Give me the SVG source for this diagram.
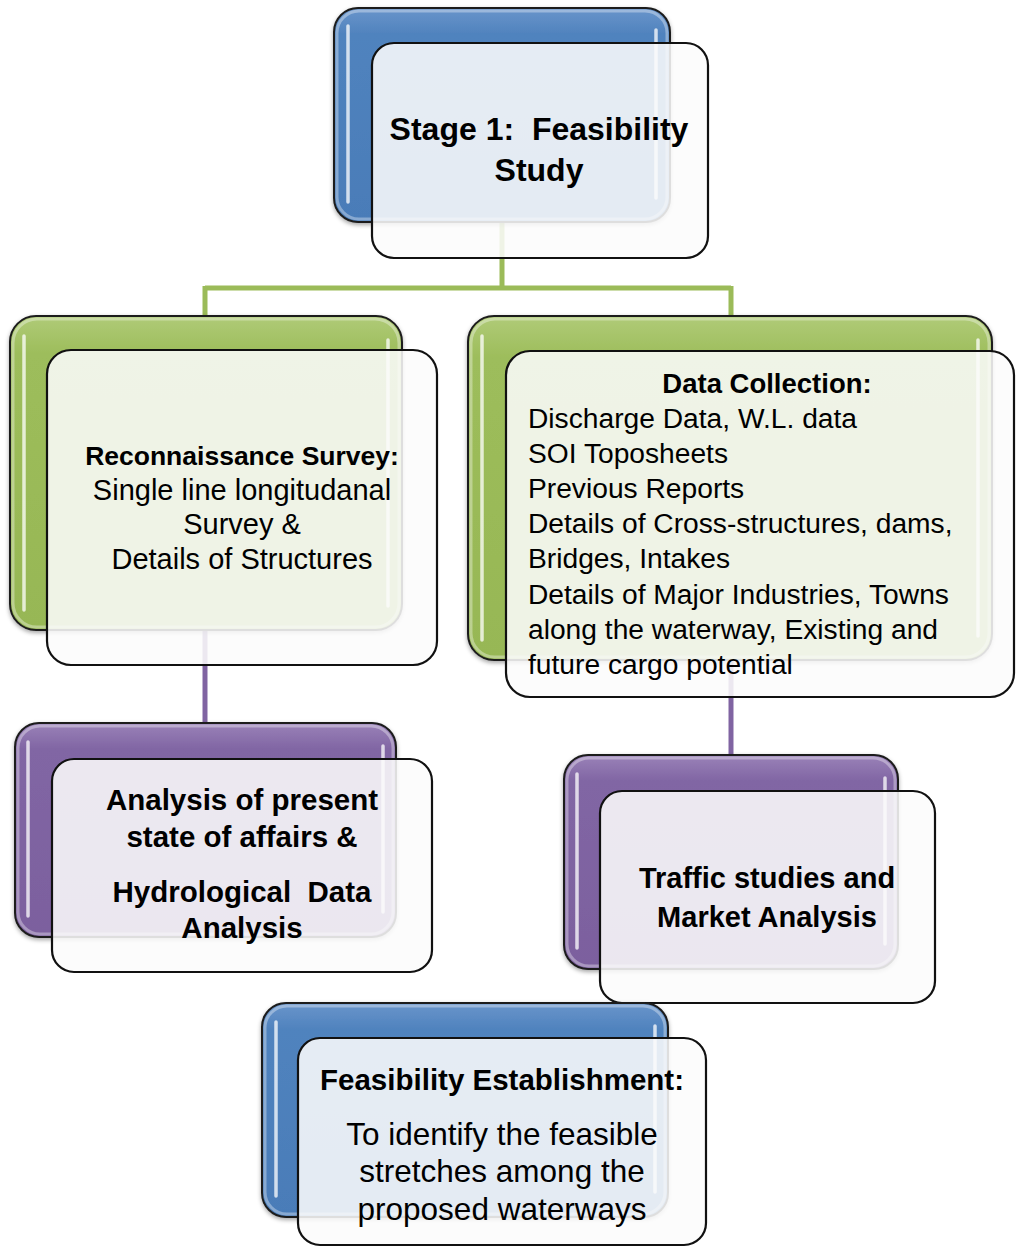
<svg xmlns="http://www.w3.org/2000/svg" width="1016" height="1247" viewBox="0 0 1016 1247">
  <style>
    .back { stroke: #1c1c1c; stroke-width: 2; }
    .front { fill: #fbfbfb; fill-opacity: 0.87; stroke: #111; stroke-width: 2.2; }
    .gloss { stroke: #ffffff; stroke-width: 3.5; stroke-linecap: round; stroke-opacity: 0.75; fill: none; }
    .rim { fill: none; stroke: #ffffff; stroke-opacity: 0.35; stroke-width: 3; }
    .t { font-family: "Liberation Sans", Arial, sans-serif; fill: #000; white-space: pre; }
    .b { font-weight: bold; }
    .c { text-anchor: middle; }
    .lnk { fill: none; stroke-width: 5; }
  </style>
  <defs>
    <linearGradient id="gBlue" x1="0" y1="0" x2="0" y2="1">
      <stop offset="0" stop-color="#6a95cb"/>
      <stop offset="0.12" stop-color="#5083be"/>
      <stop offset="1" stop-color="#4a7cb8"/>
    </linearGradient>
    <linearGradient id="gGreen" x1="0" y1="0" x2="0" y2="1">
      <stop offset="0" stop-color="#b0cb78"/>
      <stop offset="0.12" stop-color="#9dbd5b"/>
      <stop offset="1" stop-color="#97b755"/>
    </linearGradient>
    <linearGradient id="gPurple" x1="0" y1="0" x2="0" y2="1">
      <stop offset="0" stop-color="#9a82b8"/>
      <stop offset="0.12" stop-color="#8166a4"/>
      <stop offset="1" stop-color="#7c609e"/>
    </linearGradient>
    <filter id="sh" x="-10%" y="-10%" width="120%" height="125%">
      <feDropShadow dx="0" dy="2" stdDeviation="2" flood-color="#000" flood-opacity="0.35"/>
    </filter>
  </defs>

  <!-- connectors (drawn first so the translucent cards sit over them) -->
  <g id="connectors">
    <path class="lnk" stroke="#9bbb59" d="M502,222 V288 M205,288 H731 M205,286 V318 M731,286 V318"/>
    <path class="lnk" stroke="#8064a2" d="M205,630 V725"/>
    <path class="lnk" stroke="#8064a2" d="M731,660 V757"/>
  </g>

  <!-- Stage 1 -->
  <g id="node-stage1">
    <rect class="back" filter="url(#sh)" x="334" y="8" width="336" height="214" rx="24" fill="url(#gBlue)"/>
    <rect class="rim" x="337" y="11" width="330" height="208" rx="22"/>
    <path class="gloss" d="M348,26 V202 M656,30 V198"/>
    <rect class="front" x="372" y="43" width="336" height="215" rx="22"/>
    <text class="t b c" font-size="32" x="539" y="140">Stage 1:  Feasibility</text>
    <text class="t b c" font-size="32" x="539" y="181">Study</text>
  </g>

  <!-- Reconnaissance survey -->
  <g id="node-recon">
    <rect class="back" filter="url(#sh)" x="10" y="316" width="392" height="314" rx="26" fill="url(#gGreen)"/>
    <rect class="rim" x="13" y="319" width="386" height="308" rx="24"/>
    <path class="gloss" d="M24,336 V610 M388,340 V606"/>
    <rect class="front" x="47" y="350" width="390" height="315" rx="24"/>
    <text class="t b c" font-size="26.5" x="242" y="465">Reconnaissance Survey:</text>
    <text class="t c" font-size="29" x="242" y="500">Single line longitudanal</text>
    <text class="t c" font-size="29" x="242" y="534">Survey &amp;</text>
    <text class="t c" font-size="29" x="242" y="569">Details of Structures</text>
  </g>

  <!-- Data collection -->
  <g id="node-data">
    <rect class="back" filter="url(#sh)" x="468" y="316" width="524" height="344" rx="26" fill="url(#gGreen)"/>
    <rect class="rim" x="471" y="319" width="518" height="338" rx="24"/>
    <path class="gloss" d="M482,336 V640 M978,340 V636"/>
    <rect class="front" x="506" y="351" width="508" height="346" rx="24"/>
    <text class="t b c" font-size="27.5" x="767" y="393">Data Collection:</text>
    <text class="t" font-size="28.2" x="528" y="428">Discharge Data, W.L. data</text>
    <text class="t" font-size="28.2" x="528" y="463">SOI Toposheets</text>
    <text class="t" font-size="28.2" x="528" y="498">Previous Reports</text>
    <text class="t" font-size="28.2" x="528" y="533">Details of Cross-structures, dams,</text>
    <text class="t" font-size="28.2" x="528" y="568">Bridges, Intakes</text>
    <text class="t" font-size="28.2" x="528" y="604">Details of Major Industries, Towns</text>
    <text class="t" font-size="28.2" x="528" y="639">along the waterway, Existing and</text>
    <text class="t" font-size="28.2" x="528" y="674">future cargo potential</text>
  </g>

  <!-- Analysis -->
  <g id="node-analysis">
    <rect class="back" filter="url(#sh)" x="15" y="723" width="381" height="214" rx="24" fill="url(#gPurple)"/>
    <rect class="rim" x="18" y="726" width="375" height="208" rx="22"/>
    <path class="gloss" d="M28,742 V916 M383,746 V912"/>
    <rect class="front" x="52" y="759" width="380" height="213" rx="22"/>
    <text class="t b c" font-size="29.5" x="242" y="810">Analysis of present</text>
    <text class="t b c" font-size="29.5" x="242" y="847">state of affairs &amp;</text>
    <text class="t b c" font-size="29.5" x="242" y="902">Hydrological  Data</text>
    <text class="t b c" font-size="29.5" x="242" y="938">Analysis</text>
  </g>

  <!-- Traffic studies -->
  <g id="node-traffic">
    <rect class="back" filter="url(#sh)" x="564" y="755" width="334" height="214" rx="24" fill="url(#gPurple)"/>
    <rect class="rim" x="567" y="758" width="328" height="208" rx="22"/>
    <path class="gloss" d="M577,774 V948 M885,778 V944"/>
    <rect class="front" x="600" y="791" width="335" height="212" rx="22"/>
    <text class="t b c" font-size="29" x="767" y="888">Traffic studies and</text>
    <text class="t b c" font-size="29" x="767" y="927">Market Analysis</text>
  </g>

  <!-- Feasibility establishment -->
  <g id="node-establishment">
    <rect class="back" filter="url(#sh)" x="262" y="1003" width="406" height="214" rx="24" fill="url(#gBlue)"/>
    <rect class="rim" x="265" y="1006" width="400" height="208" rx="22"/>
    <path class="gloss" d="M276,1022 V1196 M655,1026 V1192"/>
    <rect class="front" x="298" y="1038" width="408" height="207" rx="22"/>
    <text class="t b c" font-size="29.5" x="502" y="1090">Feasibility Establishment:</text>
    <text class="t c" font-size="31.5" x="502" y="1145">To identify the feasible</text>
    <text class="t c" font-size="31.5" x="502" y="1182">stretches among the</text>
    <text class="t c" font-size="31.5" x="502" y="1220">proposed waterways</text>
  </g>
</svg>
